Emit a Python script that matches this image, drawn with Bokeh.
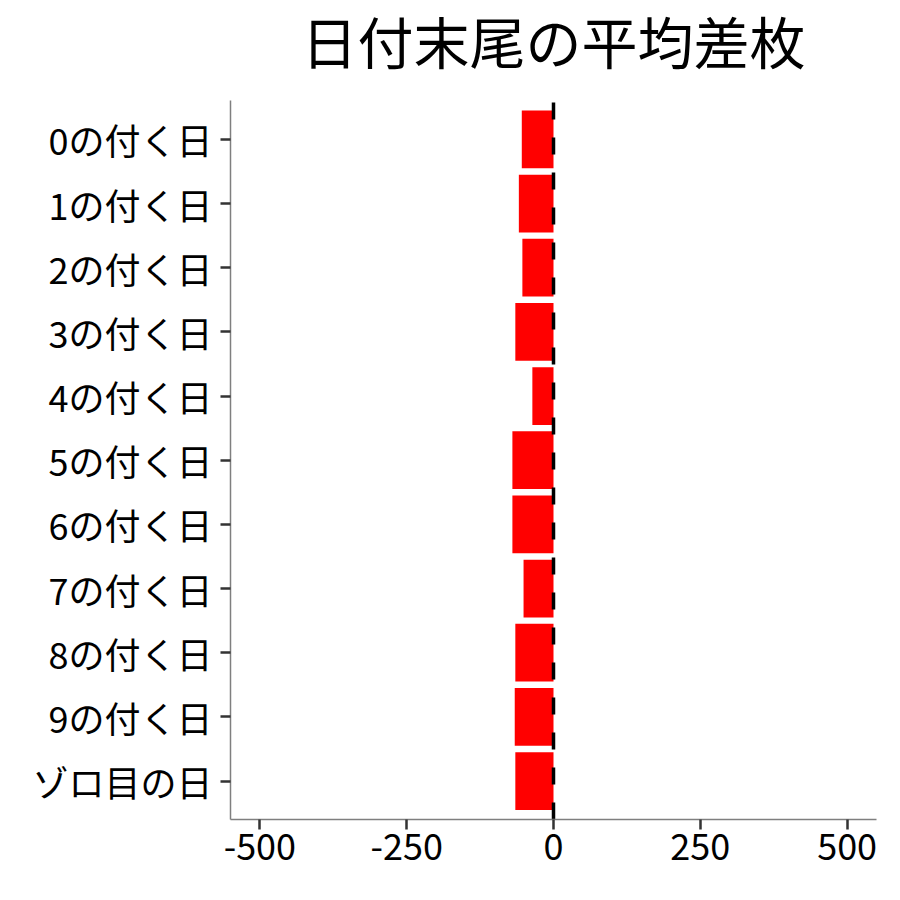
from bokeh.plotting import figure
from bokeh.models import Range1d, FixedTicker, ColumnDataSource, Label
from bokeh.embed import file_html
from bokeh.resources import INLINE

categories = ["0の付く日", "1の付く日", "2の付く日", "3の付く日", "4の付く日",
              "5の付く日", "6の付く日", "7の付く日", "8の付く日", "9の付く日", "ゾロ目の日"]
values = [-54, -59, -53, -65, -36, -70, -70, -51, -65, -66, -65]
x_ticks = [-500, -250, 0, 250, 500]
x_tick_labels = ["-500", "-250", "0", "250", "500"]
title_text = "日付末尾の平均差枚"

FONT = "Noto Sans CJK JP"

n = len(categories)
ypos = [n - 1 - i for i in range(n)]          # first category on top
source = ColumnDataSource(data=dict(y=ypos, val=values, cat=categories))

lo, hi = -0.6, n - 1 + 0.6                    # discrete-scale expansion
frame_h = 819
px_per_cat = 64.16
p = figure(width=892, height=892, output_backend="svg", toolbar_location=None,
           x_range=Range1d(-550, 550),
           y_range=Range1d(lo, lo + frame_h / px_per_cat),
           min_border_left=230, min_border_right=16, min_border_top=0, min_border_bottom=73)

p.hbar(y="y", left=0, right="val", height=0.9, source=source,
       fill_color="#FF0000", line_color=None)

# dashed zero line, drawn bottom to top across the panel
p.segment(x0=[0], y0=[lo], x1=[0], y1=[hi], line_color="black",
          line_width=3.5, line_dash="17 18")

p.add_layout(Label(x=0, y=frame_h - 39, x_units="data", y_units="screen", text=title_text,
                   text_font=FONT, text_font_size="56px", text_color="black",
                   text_align="center", text_baseline="middle"))

p.xaxis.ticker = FixedTicker(ticks=x_ticks)
p.xaxis.major_label_overrides = {t: s for t, s in zip(x_ticks, x_tick_labels)}
p.yaxis.ticker = FixedTicker(ticks=ypos)
p.yaxis.major_label_overrides = {y: c for y, c in zip(ypos, categories)}
p.yaxis.bounds = (lo, hi)
for ax in (p.xaxis, p.yaxis):
    ax.axis_line_color = "#7F7F7F"
    ax.axis_line_width = 1.5
    ax.major_tick_line_color = "#333333"
    ax.major_tick_line_width = 2.5
    ax.major_tick_out = 10
    ax.major_tick_in = 0
    ax.minor_tick_line_color = None
    ax.major_label_text_font = FONT
    ax.major_label_text_font_size = "36px"
    ax.major_label_text_color = "black"
p.xaxis.major_label_standoff = 4
p.yaxis.major_label_standoff = 8

p.xgrid.grid_line_color = None
p.ygrid.grid_line_color = None
p.outline_line_color = None
p.background_fill_color = "white"
p.border_fill_color = "white"

open("out.html", "w").write(file_html(p, INLINE))
